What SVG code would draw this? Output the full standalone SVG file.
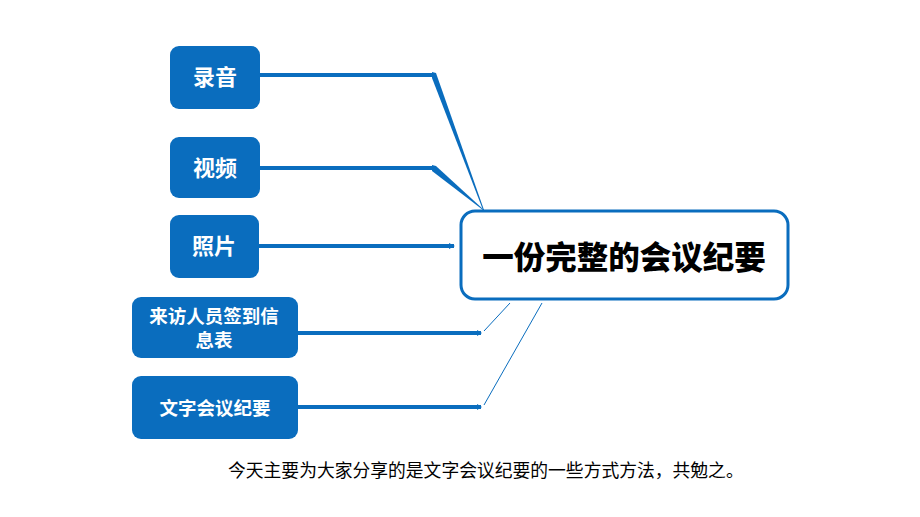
<svg xmlns="http://www.w3.org/2000/svg" width="920" height="517" viewBox="0 0 920 517">
<defs>
<style>
.box{fill:#0A6DBE;}
.lbl{fill:#fff;font-family:"Noto Sans CJK SC","Noto Sans",sans-serif;font-weight:700;text-anchor:middle;}
.ln{stroke:#0A6DBE;stroke-width:4;fill:none;}
.tp{fill:#0A6DBE;}
.thin{stroke:#0A6DBE;stroke-width:1;fill:none;}
</style>
<marker id="ah" markerWidth="6" markerHeight="6" refX="5" refY="3" orient="auto" markerUnits="userSpaceOnUse">
<path d="M0,0 L6,3 L0,6 Z" fill="#0A6DBE"/>
</marker>
<marker id="ahs" markerWidth="5" markerHeight="6" refX="4" refY="3" orient="auto" markerUnits="userSpaceOnUse">
<path d="M0,0 L5,3 L0,6 Z" fill="#0A6DBE"/>
</marker>
</defs>
<rect width="920" height="517" fill="#fff"/>
<g id="connectors">
<line class="ln" x1="260" y1="75" x2="434" y2="75"/>
<polygon class="tp" points="432,72 436,73 484,210 483,210 432,78"/>
<line class="ln" x1="260" y1="168" x2="434" y2="168"/>
<polygon class="tp" points="432,165 436,166 484,210 483,210 432,171"/>
<line class="ln" x1="259" y1="246" x2="454" y2="246" marker-end="url(#ah)"/>
<line class="ln" x1="298" y1="333" x2="481" y2="333" marker-end="url(#ahs)"/>
<line class="thin" x1="484" y1="331" x2="510" y2="303"/>
<line class="ln" x1="298" y1="407" x2="481" y2="407" marker-end="url(#ahs)"/>
<line class="thin" x1="484" y1="405" x2="542" y2="303" stroke-width="1.5"/>
</g>
<g id="node-luyin">
<rect class="box" x="170" y="46" width="90" height="63" rx="9"/>
<text class="lbl" x="215" y="85" font-size="22">录音</text>
</g>
<g id="node-shipin">
<rect class="box" x="170" y="137" width="90" height="61" rx="9"/>
<text class="lbl" x="215" y="176" font-size="22">视频</text>
</g>
<g id="node-zhaopian">
<rect class="box" x="170" y="215" width="89" height="63" rx="9"/>
<text class="lbl" x="214" y="254" font-size="22">照片</text>
</g>
<g id="node-qiandao">
<rect class="box" x="132" y="297" width="166" height="61" rx="9"/>
<text class="lbl" x="214" y="323" font-size="18.5">来访人员签到信</text>
<text class="lbl" x="214" y="347" font-size="18.5">息表</text>
</g>
<g id="node-wenzi">
<rect class="box" x="132" y="376" width="166" height="63" rx="9"/>
<text class="lbl" x="215" y="415" font-size="18.5">文字会议纪要</text>
</g>
<g id="node-main">
<rect x="461" y="211" width="327" height="88" rx="14" fill="#fff" stroke="#0A6DBE" stroke-width="3"/>
<text x="624" y="269" font-family="'Noto Sans CJK SC','Noto Sans',sans-serif" font-weight="900" font-size="31.5" text-anchor="middle" fill="#000">一份完整的会议纪要</text>
</g>
<text x="228" y="477" font-family="'Noto Sans CJK SC','Noto Sans',sans-serif" font-size="17.8" fill="#000">今天主要为大家分享的是文字会议纪要的一些方式方法，共勉之。</text>
</svg>
